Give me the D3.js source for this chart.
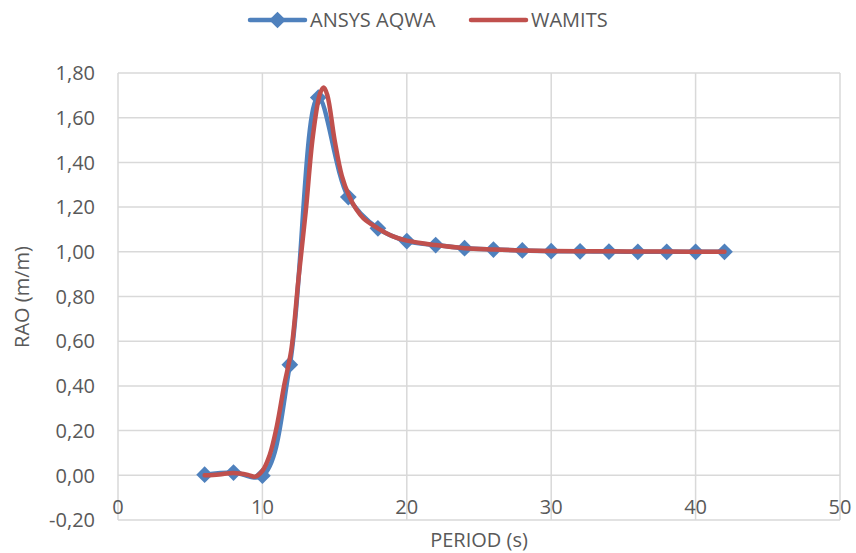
<!DOCTYPE html>
<html>
<head>
<meta charset="utf-8">
<script src="https://cdn.jsdelivr.net/npm/d3@7"></script>
<style>
  body { margin: 0; background: #fff; }
  text { font-family: "Open Sans", sans-serif; fill: #595959; }
</style>
</head>
<body>
<svg id="chart" width="856" height="553"></svg>
<script>
// ANSYS AQWA points (period s, RAO m/m)
const aqwaPeriod = [6, 8, 10, 11.9, 13.87, 15.95, 18, 20, 22, 24, 26, 28, 30, 32, 34, 36, 38, 40, 42];
const aqwaRao = [0.003, 0.012, -0.002, 0.495, 1.69, 1.245, 1.105, 1.048, 1.03, 1.016, 1.01, 1.006, 1.003, 1.002, 1.001, 1.0, 1.0, 1.0, 1.0];

// WAMIT curve
const wamitPeriod = [6, 7, 8, 9, 9.5, 10, 10.5, 11, 11.5, 12, 12.5, 13, 13.5, 14, 14.25, 14.5, 15, 15.5, 16, 16.5, 17, 18, 19, 20, 22, 24, 26, 28, 30, 32, 34, 36, 38, 40, 42];
const wamitRao = [0.0, 0.004, 0.01, 0.002, -0.006, 0.02, 0.09, 0.22, 0.40, 0.56, 0.88, 1.18, 1.52, 1.71, 1.735, 1.70, 1.50, 1.34, 1.25, 1.19, 1.15, 1.105, 1.07, 1.05, 1.03, 1.016, 1.01, 1.006, 1.004, 1.003, 1.002, 1.001, 1.001, 1.0, 1.0];

const xTicks = [0, 10, 20, 30, 40, 50];
const yTicks = [-0.2, 0, 0.2, 0.4, 0.6, 0.8, 1.0, 1.2, 1.4, 1.6, 1.8];
const seriesNames = ["ANSYS AQWA", "WAMITS"];
const seriesColors = ["#4F81BD", "#C0504D"];

const svg = d3.select("#chart");
const plot = { left: 118, right: 840, top: 73, bottom: 520 };

const x = d3.scaleLinear().domain([0, 50]).range([plot.left, plot.right]);
const y = d3.scaleLinear().domain([-0.2, 1.8]).range([plot.bottom, plot.top]);
// comma decimals, plain hyphen for negatives
const fmt = v => v.toFixed(2).replace(".", ",");

// grid
svg.append("g").selectAll("line")
    .data(yTicks)
    .join("line")
    .attr("x1", plot.left).attr("x2", plot.right)
    .attr("y1", d => y(d)).attr("y2", d => y(d))
    .attr("stroke", "#d9d9d9").attr("stroke-width", 1.5);

svg.append("g").selectAll("line")
    .data(xTicks)
    .join("line")
    .attr("x1", d => x(d)).attr("x2", d => x(d))
    .attr("y1", plot.top).attr("y2", plot.bottom)
    .attr("stroke", "#d9d9d9").attr("stroke-width", 1.5);

// y labels
svg.append("g").selectAll("text")
    .data(yTicks)
    .join("text")
    .attr("x", 95)
    .attr("y", d => y(d))
    .attr("dy", "0.36em")
    .attr("text-anchor", "end")
    .attr("font-size", 20)
    .text(d => Math.abs(d) < 1e-9 ? "0,00" : fmt(d));

// x labels sit just above the bottom line
svg.append("g").selectAll("text")
    .data(xTicks)
    .join("text")
    .attr("x", d => x(d))
    .attr("y", 514)
    .attr("text-anchor", "middle")
    .attr("font-size", 20)
    .text(d => d);

// axis titles
svg.append("text")
    .attr("x", 479).attr("y", 547)
    .attr("text-anchor", "middle")
    .attr("font-size", 20)
    .text("PERIOD (s)");

svg.append("text")
    .attr("transform", "translate(29,297) rotate(-90)")
    .attr("text-anchor", "middle")
    .attr("font-size", 20)
    .text("RAO (m/m)");

// series
const aqwa = aqwaPeriod.map((p, i) => [p, aqwaRao[i]]);
const wamit = wamitPeriod.map((p, i) => [p, wamitRao[i]]);

const line = d3.line()
    .x(d => x(d[0]))
    .y(d => y(d[1]))
    .curve(d3.curveCatmullRom.alpha(0.5));

svg.append("path")
    .datum(aqwa)
    .attr("fill", "none")
    .attr("stroke", seriesColors[0])
    .attr("stroke-width", 4.5)
    .attr("stroke-linejoin", "round")
    .attr("d", line);

const diamond = d3.symbol().type(d3.symbolSquare).size(140);

svg.append("g").selectAll("path")
    .data(aqwa)
    .join("path")
    .attr("d", diamond)
    .attr("fill", seriesColors[0])
    .attr("transform", d => `translate(${x(d[0])},${y(d[1])}) rotate(45)`);

svg.append("path")
    .datum(wamit)
    .attr("fill", "none")
    .attr("stroke", seriesColors[1])
    .attr("stroke-width", 4.5)
    .attr("stroke-linejoin", "round")
    .attr("stroke-linecap", "round")
    .attr("d", line);

// legend
const legend = svg.append("g");
const legendX = [250, 471];
seriesNames.forEach((name, i) => {
    legend.append("line")
        .attr("x1", legendX[i]).attr("x2", legendX[i] + 55)
        .attr("y1", 20).attr("y2", 20)
        .attr("stroke", seriesColors[i])
        .attr("stroke-width", 4.5)
        .attr("stroke-linecap", "round");
    if (i === 0) {
        legend.append("path")
            .attr("d", diamond)
            .attr("fill", seriesColors[i])
            .attr("transform", `translate(${legendX[i] + 27.5},20) rotate(45)`);
    }
    legend.append("text")
        .attr("x", legendX[i] + 60)
        .attr("y", 20)
        .attr("dy", "0.36em")
        .attr("font-size", 20)
        .text(name);
});
</script>
</body>
</html>
